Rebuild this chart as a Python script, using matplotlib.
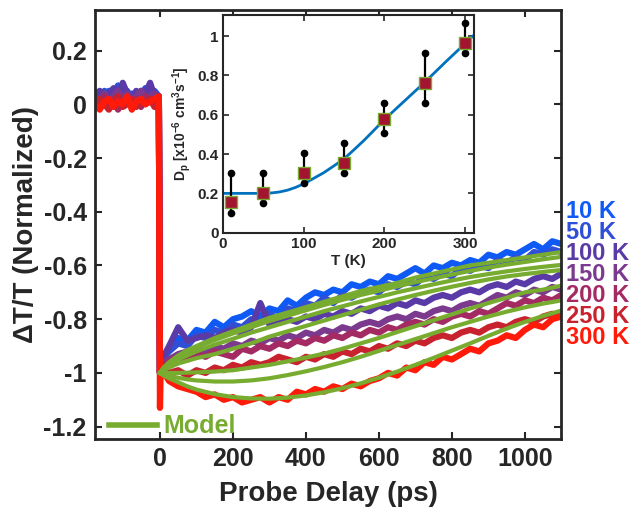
import matplotlib
matplotlib.use("Agg")
import matplotlib.pyplot as plt
from matplotlib.lines import Line2D

# ---- data ----
temps = ["10 K", "50 K", "100 K", "150 K", "200 K", "250 K", "300 K"]
colors = ["#0f5af5", "#2f4fd6", "#5a3aa6", "#7b3a8e", "#a32a62", "#c9222f", "#ff1a0a"]
model_green = "#77ac30"

delay_ps = [-178, -165, -152, -140, -127, -115, -102, -90, -77, -65, -52, -40, -27, -15,
            -3, 0, 2,
            25, 50, 75, 100, 125, 150, 175, 200, 225, 250, 275,
            300, 325, 350, 375, 400, 425, 450, 475, 500, 525, 550,
            575, 600, 625, 650, 675, 700, 725, 750, 775, 800, 825,
            850, 875, 900, 925, 950, 975, 1000, 1025, 1050, 1075, 1100]

dt_10k = [0.02, 0.04, 0.01, 0.05, 0.03, 0.02, 0.06, 0.03, 0.04, 0.01, 0.05, 0.02, 0.04, 0.03,
          0.03, -1.00, -0.95,
          -0.91, -0.87, -0.88, -0.84, -0.85, -0.81, -0.83, -0.80, -0.79, -0.77, -0.79,
          -0.76, -0.77, -0.73, -0.75, -0.72, -0.70, -0.71, -0.69, -0.70, -0.67, -0.68,
          -0.66, -0.67, -0.64, -0.65, -0.63, -0.61, -0.63, -0.60, -0.61, -0.59, -0.60,
          -0.58, -0.59, -0.56, -0.57, -0.55, -0.56, -0.54, -0.52, -0.54, -0.51, -0.52]
dt_50k = [0.01, 0.03, 0.05, 0.02, 0.04, 0.07, 0.03, 0.05, 0.02, 0.04, 0.03, 0.06, 0.02, 0.05,
          0.03, -1.00, -0.96,
          -0.92, -0.89, -0.90, -0.86, -0.87, -0.84, -0.85, -0.82, -0.83, -0.80, -0.81,
          -0.78, -0.80, -0.76, -0.77, -0.74, -0.75, -0.72, -0.74, -0.71, -0.72, -0.70,
          -0.69, -0.70, -0.67, -0.68, -0.66, -0.67, -0.64, -0.65, -0.63, -0.64, -0.61,
          -0.62, -0.60, -0.61, -0.58, -0.59, -0.57, -0.58, -0.55, -0.56, -0.54, -0.55]
dt_100k = [0.03, 0.05, 0.02, 0.04, 0.06, 0.03, 0.08, 0.04, 0.02, 0.05, 0.03, 0.04, 0.08, 0.03,
           0.03, -1.00, -0.96,
           -0.90, -0.83, -0.88, -0.87, -0.86, -0.87, -0.85, -0.84, -0.85, -0.83, -0.74,
           -0.82, -0.81, -0.80, -0.81, -0.79, -0.80, -0.78, -0.79, -0.77, -0.78, -0.76,
           -0.77, -0.75, -0.76, -0.74, -0.75, -0.73, -0.74, -0.72, -0.71, -0.72, -0.70,
           -0.69, -0.70, -0.68, -0.67, -0.68, -0.66, -0.67, -0.65, -0.64, -0.65, -0.63]
dt_150k = [0.00, 0.02, 0.04, 0.01, 0.03, 0.05, 0.02, 0.04, 0.01, 0.03, 0.05, 0.02, 0.03, 0.04,
           0.02, -1.00, -0.97,
           -0.95, -0.93, -0.92, -0.91, -0.92, -0.90, -0.91, -0.89, -0.90, -0.88, -0.89,
           -0.87, -0.88, -0.86, -0.87, -0.85, -0.86, -0.84, -0.85, -0.83, -0.84, -0.82,
           -0.81, -0.82, -0.80, -0.79, -0.80, -0.78, -0.79, -0.77, -0.76, -0.77, -0.75,
           -0.74, -0.75, -0.73, -0.71, -0.72, -0.70, -0.71, -0.69, -0.70, -0.68, -0.69]
dt_200k = [0.01, -0.01, 0.03, 0.00, 0.02, -0.02, 0.01, 0.03, 0.00, 0.02, -0.01, 0.03, 0.01, 0.00,
           0.01, -1.00, -0.98,
           -0.96, -0.94, -0.95, -0.93, -0.94, -0.92, -0.93, -0.94, -0.91, -0.92, -0.90,
           -0.91, -0.89, -0.90, -0.88, -0.89, -0.87, -0.88, -0.86, -0.87, -0.85, -0.86,
           -0.84, -0.85, -0.83, -0.84, -0.82, -0.81, -0.82, -0.80, -0.81, -0.79, -0.78,
           -0.79, -0.77, -0.78, -0.76, -0.74, -0.75, -0.73, -0.74, -0.72, -0.73, -0.71]
dt_250k = [-0.01, 0.02, 0.00, -0.02, 0.01, 0.03, -0.01, 0.00, 0.02, -0.01, 0.01, 0.00, 0.02, -0.01,
           0.01, -1.00, -0.99,
           -1.00, -0.99, -1.01, -0.99, -1.00, -0.98, -0.99, -0.97, -0.98, -0.96, -0.97,
           -0.96, -0.94, -0.95, -0.96, -0.94, -0.95, -0.93, -0.94, -0.92, -0.93, -0.91,
           -0.92, -0.90, -0.91, -0.89, -0.90, -0.88, -0.89, -0.87, -0.86, -0.87, -0.85,
           -0.84, -0.85, -0.83, -0.82, -0.83, -0.81, -0.80, -0.81, -0.79, -0.78, -0.79]
dt_300k = [0.00, -0.02, 0.01, 0.02, -0.01, 0.01, 0.00, 0.03, -0.02, 0.01, 0.02, 0.00, 0.01, 0.02,
           0.03, -1.13, -0.98,
           -1.03, -1.05, -1.06, -1.07, -1.09, -1.08, -1.10, -1.09, -1.11, -1.10, -1.09,
           -1.11, -1.09, -1.10, -1.07, -1.08, -1.06, -1.07, -1.05, -1.06, -1.04, -1.05,
           -1.03, -1.02, -1.00, -1.01, -0.98, -0.99, -0.96, -0.97, -0.94, -0.95, -0.93,
           -0.91, -0.92, -0.89, -0.88, -0.86, -0.87, -0.84, -0.82, -0.83, -0.80, -0.79]
traces = [dt_10k, dt_50k, dt_100k, dt_150k, dt_200k, dt_250k, dt_300k]

model_t = [0, 10, 25, 50, 75, 100, 150, 200, 250, 300, 350, 400, 450, 500,
           550, 600, 650, 700, 750, 800, 850, 900, 950, 1000, 1050, 1100]
model_10k = [-1.0, -0.98, -0.96, -0.935, -0.915, -0.90, -0.87, -0.845, -0.82, -0.795, -0.775, -0.755, -0.735,
             -0.715, -0.695, -0.68, -0.665, -0.645, -0.63, -0.615, -0.60, -0.59, -0.58, -0.57, -0.56, -0.55]
model_50k = [-1.0, -0.98, -0.965, -0.94, -0.92, -0.905, -0.878, -0.853, -0.83, -0.807, -0.787, -0.767, -0.747,
             -0.728, -0.71, -0.694, -0.678, -0.662, -0.648, -0.634, -0.62, -0.608, -0.597, -0.587, -0.577, -0.568]
model_100k = [-1.0, -0.985, -0.97, -0.95, -0.935, -0.92, -0.895, -0.873, -0.85, -0.83, -0.81, -0.79, -0.77,
              -0.752, -0.734, -0.717, -0.70, -0.685, -0.67, -0.656, -0.643, -0.632, -0.622, -0.613, -0.605, -0.598]
model_150k = [-1.0, -0.99, -0.98, -0.965, -0.955, -0.945, -0.93, -0.91, -0.89, -0.865, -0.845, -0.825, -0.805,
              -0.785, -0.765, -0.745, -0.727, -0.71, -0.694, -0.679, -0.665, -0.652, -0.641, -0.632, -0.624, -0.617]
model_200k = [-1.0, -1.0, -1.0, -1.0, -0.999, -0.998, -0.995, -0.99, -0.98, -0.97, -0.957, -0.943, -0.928,
              -0.91, -0.89, -0.87, -0.848, -0.826, -0.804, -0.782, -0.76, -0.74, -0.72, -0.70, -0.69, -0.675]
model_250k = [-1.0, -1.005, -1.01, -1.018, -1.024, -1.028, -1.032, -1.032, -1.028, -1.02, -1.008, -0.994, -0.978,
              -0.96, -0.94, -0.918, -0.896, -0.874, -0.852, -0.83, -0.81, -0.79, -0.772, -0.756, -0.742, -0.73]
model_300k = [-1.0, -1.01, -1.02, -1.035, -1.05, -1.062, -1.079, -1.09, -1.095, -1.096, -1.092, -1.084, -1.072,
              -1.057, -1.039, -1.018, -0.995, -0.97, -0.944, -0.917, -0.89, -0.862, -0.835, -0.81, -0.788, -0.768]
models = [model_10k, model_50k, model_100k, model_150k, model_200k, model_250k, model_300k]

# inset: diffusion coefficient vs temperature
T_K = [10, 50, 100, 150, 200, 250, 300]
Dp = [0.154, 0.203, 0.305, 0.353, 0.578, 0.759, 0.963]
Dp_hi = [0.305, 0.305, 0.407, 0.458, 0.661, 0.912, 1.064]
Dp_lo = [0.10, 0.153, 0.254, 0.305, 0.508, 0.661, 0.912]
T_fit = [0, 25, 50, 60, 70, 80, 90, 100, 112, 125, 137, 150, 162, 175, 187, 200, 225, 250, 275, 300, 311]
Dp_fit = [0.20, 0.20, 0.20, 0.202, 0.207, 0.216, 0.23, 0.248, 0.275, 0.305, 0.338, 0.375, 0.42, 0.47,
          0.52, 0.575, 0.67, 0.765, 0.865, 0.962, 1.005]

main_xticks = [0, 200, 400, 600, 800, 1000]
main_yticks = [-1.2, -1, -0.8, -0.6, -0.4, -0.2, 0, 0.2]
main_yticklabels = ["-1.2", "-1", "-0.8", "-0.6", "-0.4", "-0.2", "0", "0.2"]
inset_xticks = [0, 100, 200, 300]
inset_yticks = [0, 0.2, 0.4, 0.6, 0.8, 1]
inset_yticklabels = ["0", "0.2", "0.4", "0.6", "0.8", "1"]

# ---- style ----
plt.rcParams["font.family"] = ["Liberation Sans", "DejaVu Sans"]
plt.rcParams["font.weight"] = "bold"
plt.rcParams["axes.labelweight"] = "bold"
plt.rcParams["mathtext.fontset"] = "custom"
plt.rcParams["mathtext.rm"] = "Liberation Sans:bold"
plt.rcParams["mathtext.it"] = "Liberation Sans:bold"
plt.rcParams["mathtext.bf"] = "Liberation Sans:bold"
plt.rcParams["axes.unicode_minus"] = False
axis_color = "#262626"

fig = plt.figure(figsize=(6.37, 5.13), dpi=100)
ax = fig.add_axes([95 / 637, 74 / 513, 466 / 637, 429 / 513])

# data traces (10 K first, 300 K on top), then model curves over them
for vals, col in zip(traces, colors):
    ax.plot(delay_ps, vals, color=col, lw=4.5, solid_joinstyle="round", solid_capstyle="round")
for m in models:
    ax.plot(model_t, m, color=model_green, lw=3)

ax.set_xlim(-178, 1099)
ax.set_ylim(-1.246, 0.351)
ax.set_xticks(main_xticks)
ax.set_yticks(main_yticks)
ax.set_yticklabels(main_yticklabels)
ax.tick_params(direction="in", length=5, width=1.5, top=True, right=True,
               labelsize=18, colors=axis_color, pad=6)
for s in ax.spines.values():
    s.set_linewidth(2)
    s.set_color(axis_color)
ax.set_xlabel("Probe Delay (ps)", fontsize=20, color=axis_color, labelpad=7)
ax.set_ylabel("ΔT/T (Normalized)", fontsize=20, color=axis_color, labelpad=3)

# temperature labels right of the axes
for i, (lab, col) in enumerate(zip(temps, colors)):
    ax.text(1.011, 0.531 - i * 0.049, lab, transform=ax.transAxes, color=col,
            fontsize=17, fontweight="bold", va="center", ha="left", clip_on=False)

# "Model" legend
h = Line2D([], [], color=model_green, lw=4)
ax.legend([h], ["Model"], loc="lower left", bbox_to_anchor=(0.02, -0.01), frameon=False,
          fontsize=18, labelcolor=model_green, handlelength=1.9, handletextpad=0.25,
          borderaxespad=0, borderpad=0.2)

# ---- inset ----
axi = fig.add_axes([222.7 / 637, (513 - 232.7) / 513, 251.3 / 637, 217.7 / 513])
axi.set_facecolor("white")
axi.plot(T_fit, Dp_fit, color="#0072bd", lw=2)
axi.vlines(T_K, Dp_lo, Dp_hi, color="black", lw=1.6)
axi.plot(T_K, Dp_hi, "o", color="black", ms=4.5, ls="none")
axi.plot(T_K, Dp_lo, "o", color="black", ms=4.5, ls="none")
axi.plot(T_K, Dp, "s", ms=8.5, mfc="#a2142f", mec=model_green, mew=1, ls="none")
axi.set_xlim(0, 311)
axi.set_ylim(0, 1.107)
axi.set_xticks(inset_xticks)
axi.set_yticks(inset_yticks)
axi.set_yticklabels(inset_yticklabels)
axi.tick_params(direction="in", length=4, width=1.2, top=True, right=True,
                labelsize=11, colors=axis_color, pad=3)
for s in axi.spines.values():
    s.set_linewidth(1.5)
    s.set_color(axis_color)
axi.set_xlabel("T (K)", fontsize=11, color=axis_color, labelpad=2)
axi.set_ylabel(r"D$_p$ [x10$^{-6}$ cm$^3$s$^{-1}$]", fontsize=10, color=axis_color, labelpad=3)

fig.savefig("out.png", dpi=100)
